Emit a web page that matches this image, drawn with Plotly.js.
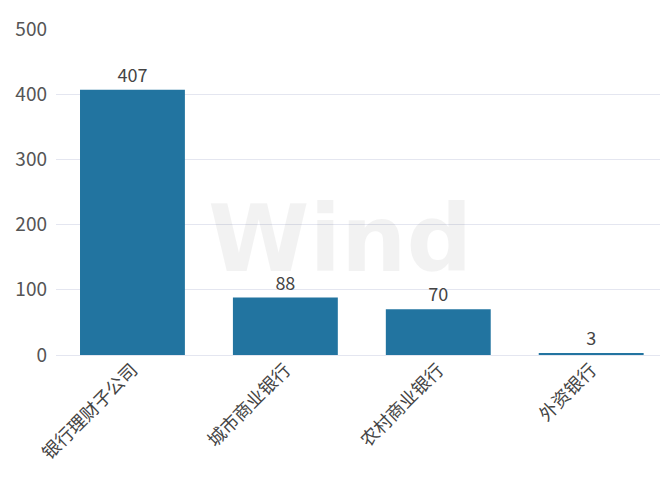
<!DOCTYPE html>
<html><head><meta charset="utf-8">
<script src="https://cdn.plot.ly/plotly-3.0.1.min.js"></script>
<style>html,body{margin:0;padding:0;background:#fff;}#chart{width:660px;height:478px;}</style>
</head><body><div id="chart"></div>
<script>
var categories = ["银行理财子公司", "城市商业银行", "农村商业银行", "外资银行"];
var values = [407, 88, 70, 3];
var yTicks = [0, 100, 200, 300, 400, 500];

var font = "'Noto Sans CJK SC', 'Open Sans', sans-serif";
var trace = {
  type: 'bar', x: categories, y: values,
  marker: {color: '#2274A0'},
  width: 0.686,
  text: values.map(String), textposition: 'outside',
  textfont: {size: 18, color: '#444', family: font},
  cliponaxis: false, hoverinfo: 'none'
};
var layout = {
  width: 660, height: 478,
  margin: {l: 56, r: 0, t: 29, b: 123},
  paper_bgcolor: '#fff', plot_bgcolor: '#fff',
  showlegend: false,
  xaxis: {range: [-0.5, 3.45], tickangle: -45, showgrid: false, zeroline: false,
          showline: false, ticks: '', tickfont: {size: 18, color: '#444', family: font}},
  yaxis: {range: [0, 500], tickvals: yTicks, showgrid: true, gridcolor: '#e4e6f0',
          zeroline: true, zerolinecolor: '#e4e6f0', showline: false, ticks: '',
          ticklabelstandoff: 8,
          tickfont: {size: 19, color: '#555', family: font}},
  annotations: [{xref: 'paper', yref: 'paper', x: 0.47, y: 0.355, xanchor: 'center', yanchor: 'middle',
    text: '<b>Wind</b>', showarrow: false, font: {size: 92, color: 'rgba(0,0,0,0.05)', family: "'DejaVu Sans', sans-serif"}}]
};
Plotly.newPlot('chart', [trace], layout, {displayModeBar: false, staticPlot: true});
</script></body></html>
